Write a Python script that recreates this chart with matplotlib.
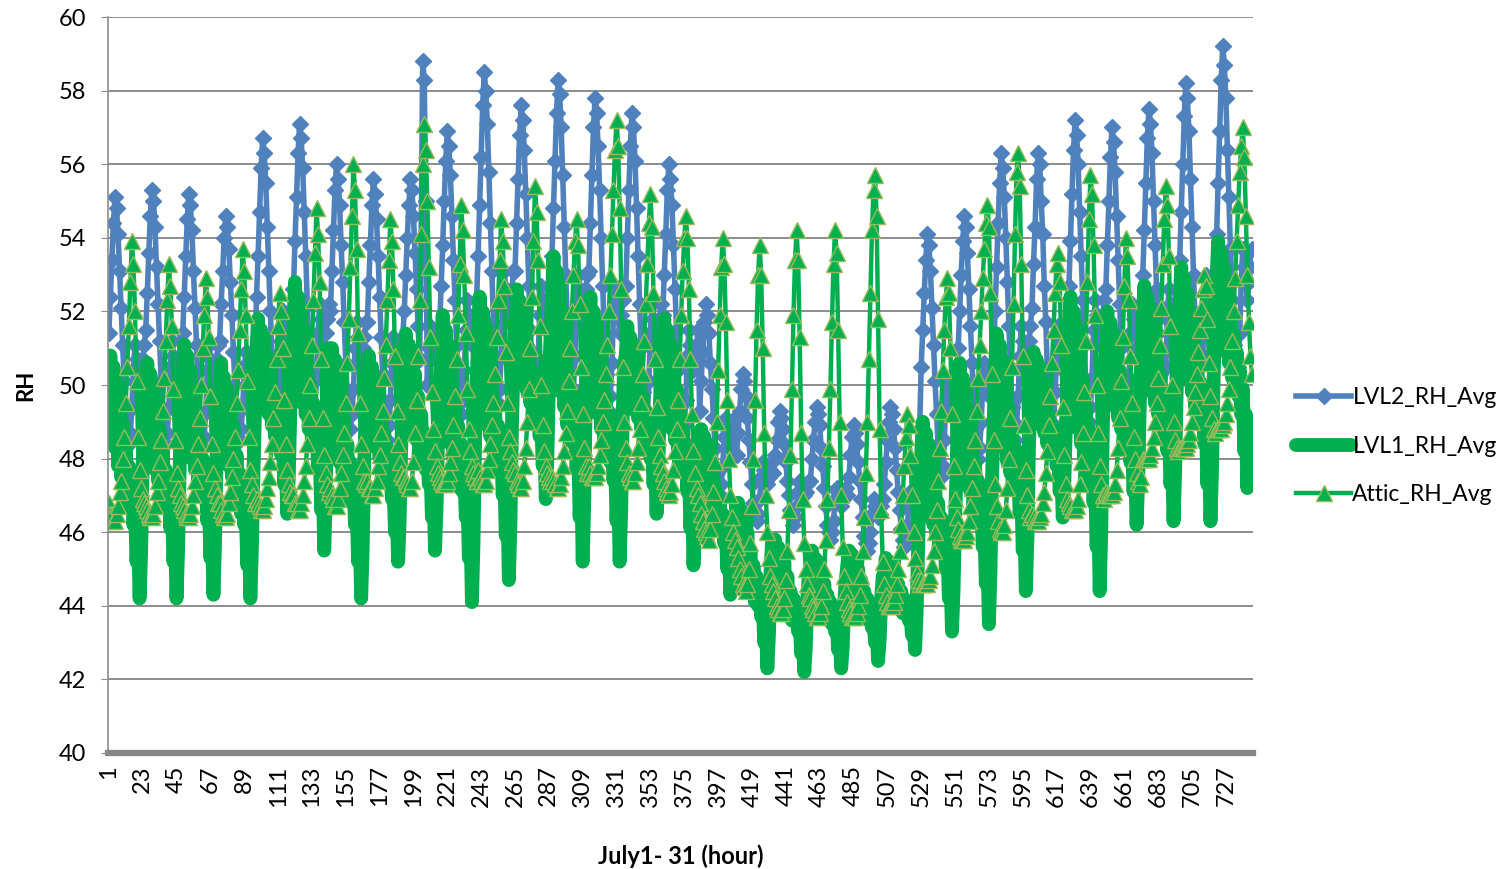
import numpy as np
import matplotlib.pyplot as plt

# hourly relative humidity, July 1 - 31 (one row per day, 24 values)
lvl2_rh = [
    51.4, 52.4, 53.4, 54.4, 55.1, 54.8, 54.1, 53.1, 52.1, 51.1, 50.1, 49.2, 48.7, 48.4, 48.7, 49.4, 50.4, 51.1, 50.7, 50.4, 50.1, 50.4, 50.7, 51.1,
    51.5, 52.5, 53.6, 54.6, 55.3, 55.0, 54.3, 53.2, 52.2, 51.2, 50.1, 49.2, 48.7, 48.4, 48.7, 49.4, 50.5, 51.2, 50.8, 50.5, 50.1, 50.5, 50.8, 51.2,
    51.4, 52.4, 53.5, 54.5, 55.2, 54.9, 54.2, 53.1, 52.1, 51.1, 50.0, 49.1, 48.6, 48.3, 48.6, 49.3, 50.4, 51.1, 50.7, 50.4, 50.0, 50.4, 50.7, 51.1,
    51.2, 52.2, 53.1, 54.0, 54.6, 54.3, 53.7, 52.8, 51.9, 50.9, 50.0, 49.2, 48.8, 48.5, 48.8, 49.4, 50.3, 50.9, 50.6, 50.3, 50.0, 50.3, 50.6, 50.9,
    52.4, 53.5, 54.7, 55.9, 56.7, 56.3, 55.5, 54.3, 53.1, 52.0, 50.8, 49.7, 49.2, 48.8, 49.2, 50.0, 51.2, 52.0, 51.6, 51.2, 50.8, 51.2, 51.6, 52.0,
    52.6, 53.9, 55.1, 56.3, 57.1, 56.7, 55.9, 54.7, 53.5, 52.2, 51.0, 50.0, 49.4, 49.0, 49.4, 50.2, 51.4, 52.2, 51.8, 51.4, 51.0, 51.4, 51.8, 52.2,
    52.0, 53.1, 54.2, 55.3, 56.0, 55.6, 54.9, 53.8, 52.8, 51.7, 50.6, 49.7, 49.2, 48.8, 49.2, 49.9, 51.0, 51.7, 51.3, 51.0, 50.6, 51.0, 51.3, 51.7,
    51.7, 52.8, 53.8, 54.9, 55.6, 55.2, 54.5, 53.5, 52.4, 51.3, 50.3, 49.4, 48.9, 48.5, 48.9, 49.6, 50.6, 51.3, 51.0, 50.6, 50.3, 50.6, 51.0, 51.3,
    52.0, 53.0, 54.0, 54.9, 55.6, 55.3, 54.6, 53.6, 52.6, 51.6, 50.7, 54.0, 58.8, 58.3, 55.0, 50.0, 51.0, 51.6, 51.3, 51.0, 50.7, 51.0, 51.3, 51.6,
    52.7, 53.8, 55.0, 56.1, 56.9, 56.5, 55.7, 54.6, 53.4, 52.3, 51.1, 50.1, 49.6, 49.2, 49.6, 50.4, 51.5, 52.3, 51.9, 51.5, 51.1, 51.5, 51.9, 52.3,
    53.5, 54.9, 56.2, 57.6, 58.5, 58.0, 57.1, 55.8, 54.4, 53.1, 51.7, 50.6, 49.9, 49.5, 49.9, 50.8, 52.2, 53.1, 52.6, 52.2, 51.7, 52.2, 52.6, 53.1,
    53.1, 54.4, 55.6, 56.8, 57.6, 57.2, 56.4, 55.2, 54.0, 52.7, 51.5, 50.5, 49.9, 49.5, 49.9, 50.7, 51.9, 52.7, 52.3, 51.9, 51.5, 51.9, 52.3, 52.7,
    53.5, 54.8, 56.1, 57.4, 58.3, 57.9, 57.0, 55.7, 54.3, 53.0, 51.7, 50.6, 49.9, 49.5, 49.9, 50.8, 52.1, 53.0, 52.6, 52.1, 51.7, 52.1, 52.6, 53.0,
    53.1, 54.4, 55.7, 57.0, 57.8, 57.4, 56.5, 55.3, 54.0, 52.7, 51.4, 50.3, 49.7, 49.3, 49.7, 50.6, 51.9, 52.7, 52.3, 51.9, 51.4, 51.9, 52.3, 52.7,
    52.7, 54.0, 55.3, 56.5, 57.4, 57.0, 56.1, 54.8, 53.5, 52.2, 51.0, 49.8, 49.2, 48.8, 49.2, 50.1, 51.4, 52.2, 51.8, 51.4, 51.0, 51.4, 51.8, 52.2,
    51.9, 53.0, 54.1, 55.3, 56.0, 55.6, 54.9, 53.8, 52.6, 51.5, 50.4, 49.4, 48.9, 48.5, 48.9, 49.6, 50.8, 51.5, 51.1, 50.8, 50.4, 50.8, 51.1, 51.5,
    49.3, 50.1, 50.9, 51.7, 52.2, 51.9, 51.4, 50.6, 49.9, 49.1, 48.3, 47.6, 47.3, 47.0, 47.3, 47.8, 48.6, 49.1, 48.8, 48.6, 48.3, 48.6, 48.8, 49.1,
    48.1, 48.7, 49.3, 49.9, 50.3, 50.1, 49.7, 49.1, 48.5, 47.9, 47.3, 46.8, 46.5, 46.3, 46.5, 46.9, 47.5, 47.9, 47.7, 47.5, 47.3, 47.5, 47.7, 47.9,
    47.6, 48.1, 48.5, 49.0, 49.3, 49.1, 48.8, 48.4, 47.9, 47.4, 47.0, 46.6, 46.4, 46.2, 46.4, 46.7, 47.1, 47.4, 47.3, 47.1, 47.0, 47.1, 47.3, 47.4,
    47.4, 48.0, 48.5, 49.0, 49.4, 49.2, 48.9, 48.3, 47.8, 47.2, 46.7, 46.2, 46.0, 45.8, 46.0, 46.3, 46.9, 47.2, 47.1, 46.9, 46.7, 46.9, 47.1, 47.2,
    47.0, 47.5, 48.1, 48.6, 48.9, 48.7, 48.4, 47.9, 47.4, 46.9, 46.4, 45.9, 45.7, 45.5, 45.7, 46.0, 46.5, 46.9, 46.7, 46.5, 46.4, 46.5, 46.7, 46.9,
    47.3, 47.9, 48.5, 49.0, 49.4, 49.2, 48.8, 48.3, 47.7, 47.1, 46.6, 46.1, 45.8, 45.6, 45.8, 46.2, 46.7, 47.1, 46.9, 46.7, 46.6, 47.0, 47.8, 48.8,
    50.5, 51.5, 52.5, 53.4, 54.1, 53.8, 53.1, 52.1, 51.1, 50.1, 49.2, 48.3, 47.8, 47.5, 47.8, 48.5, 49.5, 50.1, 49.8, 49.5, 49.2, 49.5, 49.8, 50.1,
    51.0, 52.0, 53.0, 53.9, 54.6, 54.3, 53.6, 52.6, 51.6, 50.6, 49.7, 48.8, 48.3, 48.0, 48.3, 49.0, 50.0, 50.6, 50.3, 50.0, 49.7, 50.0, 50.3, 50.6,
    52.0, 53.2, 54.4, 55.5, 56.3, 55.9, 55.1, 54.0, 52.8, 51.6, 50.5, 49.4, 48.9, 48.5, 48.9, 49.7, 50.8, 51.6, 51.2, 50.8, 50.5, 50.8, 51.2, 51.6,
    52.1, 53.3, 54.3, 55.6, 56.3, 56.0, 55.0, 54.1, 52.7, 51.7, 50.4, 49.5, 48.8, 48.5, 48.9, 49.8, 50.7, 51.6, 51.3, 50.9, 50.4, 50.9, 51.3, 51.7,
    52.7, 53.9, 55.2, 56.4, 57.2, 56.8, 56.0, 54.7, 53.5, 52.3, 51.1, 50.0, 49.4, 49.0, 49.4, 50.2, 51.5, 52.3, 51.9, 51.5, 51.1, 51.5, 51.9, 52.3,
    52.6, 53.8, 55.0, 56.2, 57.0, 56.6, 55.8, 54.6, 53.4, 52.2, 51.0, 50.0, 49.4, 49.0, 49.4, 50.2, 51.4, 52.2, 51.8, 51.4, 51.0, 51.4, 51.8, 52.2,
    53.0, 54.2, 55.5, 56.7, 57.5, 57.1, 56.3, 55.0, 53.8, 52.6, 51.4, 50.3, 49.7, 49.3, 49.7, 50.5, 51.8, 52.6, 52.2, 51.8, 51.4, 51.8, 52.2, 52.6,
    53.4, 54.7, 56.0, 57.3, 58.2, 57.8, 56.9, 55.6, 54.3, 53.0, 51.7, 50.5, 49.9, 49.5, 49.9, 50.8, 52.1, 53.0, 52.5, 52.1, 51.7, 52.1, 52.5, 53.0,
    54.1, 55.5, 56.9, 58.3, 59.2, 58.7, 57.8, 56.4, 55.1, 53.7, 52.3, 51.1, 50.5, 50.0, 50.5, 51.4, 52.8, 53.7, 53.2, 52.8, 52.3, 52.8, 53.2, 53.7,
]

lvl1_rh = [
    49.8, 50.8, 48.8, 50.5, 48.3, 50.1, 47.8, 49.6, 47.5, 49.0, 47.2, 48.3, 46.8, 47.8, 46.7, 47.4, 46.2, 46.8, 45.2, 46.2, 44.2, 45.5, 47.8, 49.2,
    49.6, 50.6, 48.7, 50.3, 48.2, 50.0, 47.7, 49.4, 47.4, 48.8, 47.1, 48.2, 46.8, 47.7, 46.6, 47.3, 46.1, 46.8, 45.2, 46.1, 44.2, 45.5, 47.7, 49.0,
    50.1, 51.1, 49.1, 50.8, 48.5, 50.4, 48.0, 49.9, 47.7, 49.2, 47.4, 48.5, 47.0, 48.0, 46.9, 47.6, 46.3, 47.0, 45.3, 46.3, 44.3, 45.7, 48.0, 49.4,
    49.7, 50.6, 48.6, 50.2, 48.3, 49.9, 47.8, 49.3, 47.5, 48.9, 47.0, 48.1, 46.9, 47.6, 46.5, 47.2, 46.2, 46.7, 45.1, 46.0, 44.2, 45.6, 47.6, 49.3,
    51.0, 51.8, 50.2, 51.5, 49.8, 51.3, 49.4, 50.8, 49.2, 50.3, 48.9, 49.8, 48.6, 49.4, 48.5, 49.0, 48.1, 48.6, 47.3, 48.1, 46.5, 47.6, 49.4, 50.5,
    51.7, 52.8, 50.6, 52.4, 50.0, 52.1, 49.5, 51.5, 49.2, 50.8, 48.8, 50.0, 48.4, 49.5, 48.3, 49.0, 47.7, 48.4, 46.6, 47.7, 45.5, 47.0, 49.5, 51.0,
    50.0, 51.0, 49.0, 50.7, 48.4, 50.3, 47.9, 49.8, 47.6, 49.1, 47.3, 48.4, 46.9, 47.9, 46.8, 47.5, 46.2, 46.9, 45.2, 46.2, 44.2, 45.6, 47.9, 49.3,
    50.0, 50.8, 49.1, 50.5, 48.7, 50.2, 48.3, 49.8, 48.0, 49.2, 47.7, 48.7, 47.4, 48.3, 47.3, 47.9, 46.9, 47.4, 46.0, 46.9, 45.2, 46.3, 48.3, 49.4,
    50.5, 51.4, 49.6, 51.1, 49.2, 50.8, 48.7, 50.3, 48.5, 49.7, 48.2, 49.2, 47.9, 48.7, 47.7, 48.3, 47.3, 47.9, 46.4, 47.3, 45.5, 46.7, 48.7, 49.9,
    50.7, 51.9, 49.6, 51.5, 48.9, 51.1, 48.4, 50.5, 48.0, 49.7, 47.6, 48.9, 47.2, 48.4, 47.1, 47.8, 46.4, 47.2, 45.3, 46.4, 44.1, 45.7, 48.4, 50.0,
    51.2, 52.4, 50.1, 52.0, 49.5, 51.6, 48.9, 51.0, 48.6, 50.2, 48.2, 49.5, 47.8, 48.9, 47.6, 48.4, 47.0, 47.8, 45.9, 47.0, 44.7, 46.2, 48.9, 50.5,
    51.7, 52.6, 50.9, 52.3, 50.4, 52.0, 50.0, 51.6, 49.8, 51.0, 49.5, 50.4, 49.2, 50.0, 49.1, 49.6, 48.6, 49.2, 47.8, 48.6, 46.9, 48.0, 50.0, 51.2,
    52.3, 53.5, 51.0, 53.1, 50.3, 52.7, 49.8, 52.0, 49.4, 51.2, 48.9, 50.3, 48.5, 49.8, 48.4, 49.2, 47.7, 48.5, 46.4, 47.7, 45.2, 46.9, 49.8, 51.4,
    51.3, 52.4, 50.2, 52.0, 49.7, 51.7, 49.2, 51.1, 48.8, 50.4, 48.4, 49.7, 48.1, 49.2, 47.9, 48.7, 47.4, 48.1, 46.3, 47.4, 45.2, 46.6, 49.2, 50.6,
    50.8, 51.6, 50.1, 51.3, 49.7, 51.1, 49.3, 50.7, 49.1, 50.2, 48.8, 49.7, 48.5, 49.3, 48.4, 48.9, 48.0, 48.5, 47.3, 48.0, 46.5, 47.5, 49.3, 50.3,
    50.8, 51.8, 49.8, 51.5, 49.3, 51.1, 48.8, 50.6, 48.5, 49.9, 48.1, 49.3, 47.8, 48.8, 47.6, 48.3, 47.1, 47.8, 46.1, 47.1, 45.1, 46.4, 47.2, 48.0,
    48.1, 48.8, 47.5, 48.6, 47.1, 48.4, 46.8, 48.0, 46.6, 47.5, 46.3, 47.1, 46.1, 46.8, 46.0, 46.5, 45.7, 46.1, 45.0, 45.7, 44.3, 45.2, 45.8, 46.4,
    46.1, 46.8, 45.5, 46.6, 45.1, 46.4, 44.8, 46.0, 44.6, 45.5, 44.3, 45.1, 44.1, 44.8, 44.0, 44.5, 43.7, 44.1, 43.0, 43.7, 42.3, 43.2, 44.8, 45.7,
    45.3, 45.8, 44.7, 45.6, 44.4, 45.4, 44.2, 45.2, 44.0, 44.8, 43.8, 44.4, 43.6, 44.2, 43.6, 43.9, 43.3, 43.6, 42.7, 43.3, 42.2, 42.9, 44.2, 44.9,
    45.0, 45.5, 44.5, 45.3, 44.3, 45.2, 44.1, 44.9, 43.9, 44.6, 43.7, 44.3, 43.6, 44.1, 43.5, 43.8, 43.3, 43.6, 42.8, 43.3, 42.3, 42.9, 44.1, 44.7,
    45.1, 45.5, 44.6, 45.4, 44.4, 45.2, 44.2, 45.0, 44.0, 44.7, 43.9, 44.4, 43.7, 44.2, 43.6, 43.9, 43.4, 43.7, 43.0, 43.4, 42.5, 43.1, 44.2, 44.8,
    44.9, 45.3, 44.6, 45.2, 44.4, 45.1, 44.2, 44.9, 44.1, 44.6, 43.9, 44.4, 43.8, 44.2, 43.8, 44.0, 43.6, 43.8, 43.2, 43.6, 42.8, 43.8, 45.6, 47.4,
    48.1, 49.0, 47.3, 48.7, 46.8, 48.4, 46.4, 48.0, 46.2, 47.4, 45.9, 46.8, 45.6, 46.4, 45.5, 46.0, 45.0, 45.6, 44.2, 45.0, 43.3, 44.4, 46.4, 47.6,
    49.5, 50.6, 48.5, 50.2, 47.9, 49.9, 47.4, 49.3, 47.1, 48.6, 46.7, 47.9, 46.3, 47.4, 46.2, 46.9, 45.6, 46.3, 44.6, 45.6, 43.5, 44.9, 47.4, 48.8,
    50.4, 51.4, 49.3, 51.1, 48.7, 50.7, 48.3, 50.1, 47.9, 49.4, 47.6, 48.7, 47.2, 48.3, 47.1, 47.8, 46.5, 47.2, 45.5, 46.5, 44.4, 45.8, 48.3, 49.7,
    50.2, 50.9, 49.6, 50.7, 49.2, 50.5, 48.9, 50.1, 48.7, 49.6, 48.4, 49.2, 48.2, 48.9, 48.1, 48.6, 47.8, 48.2, 47.1, 47.8, 46.4, 47.3, 48.9, 49.8,
    51.2, 52.4, 50.0, 52.0, 49.4, 51.6, 48.8, 51.0, 48.4, 50.2, 48.0, 49.4, 47.6, 48.8, 47.4, 48.2, 46.8, 47.6, 45.6, 46.8, 44.4, 46.0, 48.8, 50.4,
    51.1, 52.0, 50.3, 51.7, 49.8, 51.4, 49.4, 51.0, 49.1, 50.4, 48.8, 49.8, 48.5, 49.4, 48.4, 49.0, 47.9, 48.5, 47.1, 47.9, 46.2, 47.4, 49.4, 50.6,
    51.7, 52.7, 50.8, 52.4, 50.3, 52.1, 49.8, 51.5, 49.5, 50.9, 49.2, 50.3, 48.9, 49.8, 48.7, 49.4, 48.2, 48.9, 47.3, 48.2, 46.3, 47.6, 49.8, 51.1,
    52.2, 53.2, 51.1, 52.9, 50.6, 52.5, 50.1, 52.0, 49.8, 51.3, 49.4, 50.6, 49.1, 50.1, 48.9, 49.6, 48.4, 49.1, 47.3, 48.4, 46.3, 47.7, 50.1, 51.5,
    52.9, 53.9, 51.9, 53.6, 51.4, 53.2, 50.9, 52.7, 50.6, 52.0, 50.2, 51.4, 49.9, 50.9, 49.7, 50.4, 49.2, 49.9, 48.2, 49.2, 47.2, 48.5, 47.8, 47.5,
]

attic_rh = [
    46.8, 46.5, 46.5, 46.3, 46.3, 46.5, 46.7, 47.1, 47.4, 48.0, 48.6, 49.5, 50.5, 51.6, 52.8, 53.9, 53.3, 52.0, 50.1, 48.6, 47.7, 47.2, 46.9, 46.8,
    46.7, 46.6, 46.5, 46.4, 46.4, 46.5, 46.7, 47.1, 47.4, 47.9, 48.5, 49.3, 50.2, 51.2, 52.3, 53.3, 52.7, 51.6, 49.9, 48.5, 47.6, 47.2, 47.0, 46.8,
    46.7, 46.6, 46.5, 46.4, 46.4, 46.5, 46.7, 47.0, 47.4, 47.8, 48.4, 49.1, 50.0, 51.0, 51.9, 52.9, 52.4, 51.3, 49.7, 48.4, 47.6, 47.2, 47.0, 46.8,
    46.8, 46.6, 46.5, 46.4, 46.4, 46.5, 46.8, 47.1, 47.5, 48.0, 48.6, 49.5, 50.4, 51.5, 52.6, 53.7, 53.1, 51.9, 50.1, 48.6, 47.7, 47.3, 47.0, 46.8,
    46.9, 46.8, 46.7, 46.6, 46.6, 46.7, 46.9, 47.2, 47.5, 47.9, 48.4, 49.1, 49.8, 50.7, 51.6, 52.5, 52.0, 51.0, 49.6, 48.4, 47.7, 47.3, 47.1, 47.0,
    47.0, 46.8, 46.8, 46.6, 46.6, 46.8, 47.0, 47.4, 47.8, 48.4, 49.1, 50.0, 51.1, 52.3, 53.6, 54.8, 54.1, 52.8, 50.7, 49.1, 48.1, 47.6, 47.3, 47.1,
    47.2, 47.0, 46.9, 46.7, 46.7, 46.9, 47.2, 47.6, 48.1, 48.7, 49.5, 50.6, 51.8, 53.2, 54.6, 56.0, 55.3, 53.7, 51.4, 49.5, 48.4, 47.8, 47.4, 47.3,
    47.4, 47.2, 47.2, 47.0, 47.0, 47.2, 47.4, 47.8, 48.1, 48.7, 49.3, 50.2, 51.1, 52.3, 53.4, 54.5, 53.9, 52.6, 50.8, 49.3, 48.4, 47.9, 47.6, 47.5,
    47.5, 47.4, 47.3, 47.2, 47.2, 47.4, 47.9, 48.7, 49.6, 50.8, 52.3, 54.1, 56.0, 57.1, 56.4, 55.0, 53.2, 51.3, 49.8, 48.8, 48.2, 47.8, 47.6, 47.5,
    47.4, 47.3, 47.3, 47.3, 47.4, 47.6, 47.9, 48.3, 48.9, 49.7, 50.7, 51.9, 53.3, 54.9, 54.2, 53.0, 51.4, 49.9, 48.8, 48.2, 47.8, 47.6, 47.5, 47.4,
    47.7, 47.5, 47.4, 47.3, 47.3, 47.4, 47.7, 48.0, 48.4, 48.9, 49.5, 50.3, 51.3, 52.3, 53.4, 54.5, 53.9, 52.7, 50.9, 49.5, 48.6, 48.2, 47.9, 47.7,
    47.6, 47.4, 47.3, 47.2, 47.2, 47.4, 47.8, 48.3, 49.0, 49.9, 51.0, 52.4, 53.9, 55.4, 54.7, 53.4, 51.6, 50.0, 48.9, 48.2, 47.8, 47.6, 47.5, 47.4,
    47.5, 47.4, 47.3, 47.2, 47.2, 47.3, 47.5, 47.8, 48.2, 48.7, 49.3, 50.1, 51.0, 52.0, 53.0, 53.9, 54.5, 53.8, 52.2, 50.5, 49.2, 48.3, 47.8, 47.6,
    47.8, 47.6, 47.5, 47.5, 47.5, 47.6, 47.8, 48.1, 48.5, 49.0, 49.6, 50.3, 51.1, 52.0, 53.0, 54.1, 55.3, 56.4, 57.2, 56.5, 54.8, 52.6, 50.5, 49.0,
    48.3, 47.9, 47.6, 47.5, 47.4, 47.4, 47.6, 47.9, 48.3, 48.8, 49.5, 50.3, 51.2, 52.2, 53.3, 54.4, 55.2, 54.3, 52.5, 50.7, 49.4, 48.6, 48.1, 47.8,
    47.6, 47.4, 47.2, 47.1, 47.0, 47.1, 47.3, 47.7, 48.2, 48.8, 49.6, 50.7, 51.9, 53.1, 54.0, 54.6, 54.0, 52.6, 50.7, 49.2, 48.2, 47.6, 47.2, 47.0,
    46.8, 46.5, 46.3, 46.1, 46.0, 45.9, 45.8, 46.1, 46.5, 47.1, 47.9, 49.0, 50.4, 51.9, 53.2, 54.0, 53.3, 51.7, 49.6, 48.0, 47.0, 46.4, 46.0, 45.8,
    45.6, 45.3, 45.0, 44.8, 44.6, 44.5, 44.4, 44.6, 45.0, 45.7, 46.7, 48.0, 49.6, 51.5, 53.0, 53.8, 53.0, 51.0, 48.7, 47.0, 46.0, 45.3, 44.8, 44.6,
    44.4, 44.2, 44.0, 43.9, 43.8, 43.8, 43.9, 44.2, 44.7, 45.5, 46.6, 48.1, 49.9, 51.9, 53.4, 54.2, 53.4, 51.3, 48.7, 46.9, 45.7, 45.0, 44.6, 44.3,
    44.2, 44.0, 43.9, 43.8, 43.7, 43.7, 43.8, 44.0, 44.4, 45.0, 45.8, 46.9, 48.3, 49.9, 51.7, 53.3, 54.2, 53.6, 51.5, 49.0, 47.0, 45.6, 44.8, 44.4,
    44.1, 43.9, 43.8, 43.7, 43.7, 43.7, 43.8, 44.0, 44.3, 44.8, 45.5, 46.4, 47.6, 49.0, 50.7, 52.5, 54.2, 55.3, 55.7, 54.6, 51.8, 48.8, 46.6, 45.2,
    44.6, 44.3, 44.1, 44.0, 44.0, 44.0, 44.1, 44.3, 44.6, 45.0, 45.5, 46.2, 47.0, 47.8, 48.6, 49.2, 48.9, 48.1, 47.0, 46.0, 45.3, 44.9, 44.7, 44.6,
    44.7, 44.6, 44.6, 44.6, 44.6, 44.7, 44.8, 45.1, 45.5, 46.0, 46.6, 47.4, 48.3, 49.3, 50.4, 51.5, 52.4, 52.9, 52.5, 51.0, 49.2, 47.8, 46.9, 46.4,
    46.1, 45.9, 45.8, 45.8, 45.8, 45.9, 46.0, 46.3, 46.7, 47.2, 47.8, 48.5, 49.3, 50.2, 51.1, 52.0, 52.9, 53.7, 54.4, 54.9, 54.3, 52.5, 50.3, 48.5,
    47.3, 46.7, 46.3, 46.1, 46.0, 46.0, 46.2, 46.6, 47.2, 48.0, 49.1, 50.5, 52.2, 54.1, 55.8, 56.3, 55.4, 53.3, 50.8, 48.9, 47.7, 47.0, 46.6, 46.4,
    46.5, 46.4, 46.3, 46.3, 46.3, 46.4, 46.5, 46.8, 47.1, 47.6, 48.2, 48.9, 49.7, 50.6, 51.5, 52.5, 53.3, 53.6, 52.8, 51.1, 49.4, 48.1, 47.3, 46.9,
    46.8, 46.7, 46.6, 46.6, 46.6, 46.7, 46.9, 47.3, 47.9, 48.7, 49.8, 51.2, 52.8, 54.5, 55.7, 55.2, 53.8, 51.9, 50.0, 48.7, 47.8, 47.3, 47.0, 46.9,
    47.1, 47.0, 47.0, 47.0, 47.0, 47.1, 47.3, 47.7, 48.3, 49.1, 50.1, 51.3, 52.7, 54.0, 53.5, 52.3, 50.8, 49.5, 48.6, 48.0, 47.6, 47.4, 47.3, 47.5,
    48.0, 48.0, 48.0, 48.0, 48.0, 48.1, 48.3, 48.6, 49.0, 49.5, 50.2, 51.1, 52.1, 53.3, 54.5, 55.4, 54.9, 53.5, 51.6, 50.0, 49.0, 48.5, 48.3, 48.2,
    48.3, 48.3, 48.3, 48.3, 48.3, 48.4, 48.5, 48.7, 49.0, 49.4, 49.8, 50.3, 50.9, 51.5, 52.1, 52.6, 53.0, 52.7, 51.8, 50.6, 49.7, 49.1, 48.8, 48.7,
    48.8, 48.8, 48.8, 48.8, 48.9, 49.0, 49.2, 49.5, 49.9, 50.5, 51.2, 52.0, 52.9, 53.9, 54.9, 55.8, 56.5, 57.0, 56.2, 54.6, 53.0, 51.7, 50.8, 50.3,
]

hours = np.arange(1, len(lvl2_rh) + 1)
tick_hours = list(range(1, len(hours) + 1, 22))

blue = '#4F81BD'
green = '#00B050'
olive = '#9BBB59'
grid_grey = '#8C8C8C'

plt.rcParams['font.family'] = ['Lato', 'DejaVu Sans']

fig = plt.figure(figsize=(15.09, 8.69), dpi=100)
ax = fig.add_axes([0.0716, 0.1335, 0.7586, 0.8469])

ax.plot(hours, lvl2_rh, color=blue, lw=4, marker='D', ms=8.5,
        mfc=blue, mec=blue, label='LVL2_RH_Avg', solid_joinstyle='round')
ax.plot(hours, lvl1_rh, color=green, lw=10, solid_capstyle='round',
        solid_joinstyle='round', label='LVL1_RH_Avg')
ax.plot(hours, attic_rh, color=green, lw=3.2, marker='^', ms=12,
        mfc=green, mec=olive, mew=1.0, label='Attic_RH_Avg')

ax.set_xlim(0.5, len(hours) + 0.5)
ax.set_ylim(40, 60)
ax.set_yticks(range(40, 61, 2))
ax.set_xticks(tick_hours)
ax.set_xticklabels([str(h) for h in tick_hours], rotation=90, fontsize=17)
ax.tick_params(axis='x', length=0, pad=9)
ax.tick_params(axis='y', labelsize=17, length=5, color=grid_grey, pad=11)

ax.grid(axis='y', color=grid_grey, lw=1.4)
ax.set_axisbelow(True)
for side in ['top', 'right']:
    ax.spines[side].set_visible(False)
ax.spines['left'].set_color(grid_grey)
ax.spines['left'].set_linewidth(1.2)
ax.spines['bottom'].set_color('#878787')
ax.spines['bottom'].set_linewidth(4.5)

ax.set_xlabel('July1- 31 (hour)', fontsize=17, fontweight='bold', labelpad=27)
ax.set_ylabel('RH', fontsize=16, fontweight='bold', labelpad=16)

ax.legend(loc='center left', bbox_to_anchor=(1.02, 0.417), frameon=False,
          fontsize=16.5, handlelength=2.4, handletextpad=0.05, labelspacing=1.2)

fig.savefig('out.png', dpi=100)
